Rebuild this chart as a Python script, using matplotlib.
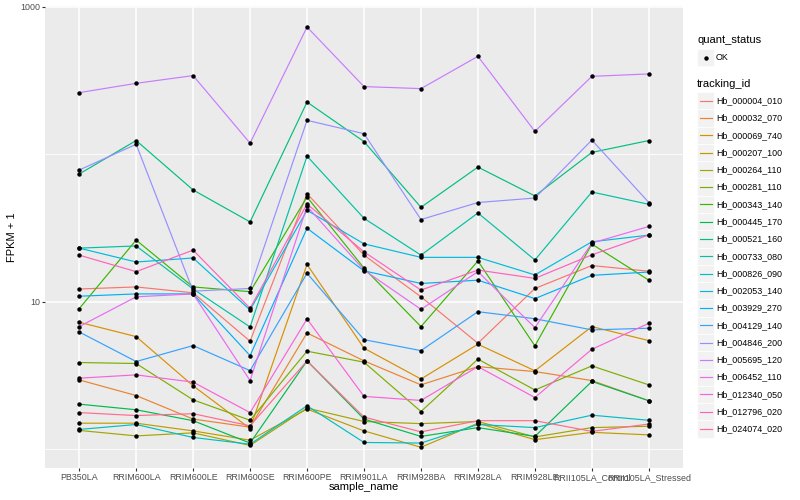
import matplotlib.pyplot as plt
from matplotlib.patches import Rectangle
from matplotlib.lines import Line2D
from matplotlib.ticker import NullFormatter

plt.rcParams['font.family'] = ['Liberation Sans', 'DejaVu Sans']

samples = ['PB350LA', 'RRIM600LA', 'RRIM600LE', 'RRIM600SE', 'RRIM600PE', 'RRIM901LA',
           'RRIM928BA', 'RRIM928LA', 'RRIM928LE', 'RRII105LA_Control', 'RRII105LA_Stressed']

tracking_ids = ['Hb_000004_010', 'Hb_000032_070', 'Hb_000069_740', 'Hb_000207_100',
                'Hb_000264_110', 'Hb_000281_110', 'Hb_000343_140', 'Hb_000445_170',
                'Hb_000521_160', 'Hb_000733_080', 'Hb_000826_090', 'Hb_002053_140',
                'Hb_003929_270', 'Hb_004129_140', 'Hb_004846_200', 'Hb_005695_120',
                'Hb_006452_110', 'Hb_012340_050', 'Hb_012796_020', 'Hb_024074_020']

# FPKM + 1 per sample
hb_000004_010 = [12.2, 12.6, 11.5, 5.40, 54.1, 20.7, 10.8, 5.23, 12.3, 17.6, 16.1]
hb_000032_070 = [2.95, 2.31, 1.60, 1.41, 6.14, 3.97, 2.73, 3.63, 3.36, 2.92, 2.13]
hb_000069_740 = [7.26, 5.80, 2.69, 1.38, 17.9, 4.84, 2.99, 5.15, 3.40, 6.78, 5.45]
hb_000207_100 = [1.50, 1.50, 1.33, 1.15, 1.87, 1.33, 1.03, 1.50, 1.16, 1.30, 1.25]
hb_000264_110 = [1.34, 1.23, 1.29, 1.06, 1.90, 1.54, 1.49, 1.54, 1.21, 1.40, 1.43]
hb_000281_110 = [3.87, 3.81, 2.16, 1.57, 4.62, 3.89, 1.80, 4.08, 2.52, 3.67, 2.73]
hb_000343_140 = [8.97, 26.2, 12.6, 11.7, 51.3, 16.9, 6.78, 18.9, 5.02, 24.6, 14.0]
hb_000445_170 = [2.02, 1.85, 1.56, 1.10, 3.97, 1.60, 1.22, 1.40, 1.22, 2.88, 2.13]
hb_000521_160 = [73.5, 124, 57.3, 34.8, 226, 122, 43.7, 81.9, 52.2, 103, 124]
hb_000733_080 = [23.1, 23.9, 12.2, 6.74, 97.2, 36.8, 20.7, 40.0, 19.2, 55.5, 45.8]
hb_000826_090 = [1.36, 1.47, 1.20, 1.08, 1.97, 1.11, 1.10, 1.47, 1.40, 1.70, 1.57]
hb_002053_140 = [23.1, 18.6, 19.8, 8.79, 41.7, 24.7, 20.0, 20.0, 15.2, 25.5, 28.3]
hb_003929_270 = [10.9, 11.3, 11.3, 4.31, 31.5, 16.2, 13.3, 14.0, 10.5, 15.1, 15.9]
hb_004129_140 = [6.24, 3.93, 5.04, 3.41, 15.6, 5.53, 4.66, 8.56, 7.67, 6.44, 6.61]
hb_004846_200 = [78.2, 117, 11.8, 12.3, 170, 138, 36.1, 47.1, 50.5, 125, 47.1]
hb_005695_120 = [262, 303, 342, 119, 730, 288, 279, 462, 143, 338, 351]
hb_006452_110 = [6.78, 10.8, 11.3, 2.92, 44.4, 16.4, 8.88, 16.0, 6.67, 25.0, 32.4]
hb_012340_050 = [3.03, 3.19, 2.85, 1.77, 7.64, 2.28, 2.14, 3.63, 2.24, 4.76, 7.14]
hb_012796_020 = [20.7, 16.0, 22.4, 9.03, 46.0, 21.8, 12.0, 16.4, 14.4, 20.8, 28.4]
hb_024074_020 = [1.77, 1.69, 1.74, 1.44, 3.97, 1.65, 1.31, 1.56, 1.56, 1.32, 1.48]

series = [hb_000004_010, hb_000032_070, hb_000069_740, hb_000207_100, hb_000264_110,
          hb_000281_110, hb_000343_140, hb_000445_170, hb_000521_160, hb_000733_080,
          hb_000826_090, hb_002053_140, hb_003929_270, hb_004129_140, hb_004846_200,
          hb_005695_120, hb_006452_110, hb_012340_050, hb_012796_020, hb_024074_020]

# ggplot default hue palette for 20 levels
colors = ['#F8766D', '#EA8331', '#D89000', '#C09B00', '#A3A500', '#7CAE00', '#39B600',
          '#00BB4E', '#00BF7D', '#00C1A3', '#00BFC4', '#00BAE0', '#00B0F6', '#35A2FF',
          '#9590FF', '#C77CFF', '#E76BF3', '#FA62DB', '#FF62BC', '#FF6C90']

W, H = 800, 500
fig = plt.figure(figsize=(8, 5), dpi=100)
ax = fig.add_axes([45 / W, 1 - 468 / H, (683 - 45) / W, (468 - 6) / H])
ax.set_facecolor('#EBEBEB')
for s in ax.spines.values():
    s.set_visible(False)

x = list(range(len(samples)))
for vals, c in zip(series, colors):
    ax.plot(x, vals, color=c, lw=0.85, zorder=2)
for vals in series:
    ax.plot(x, vals, 'o', color='black', ms=3.2, mew=0, zorder=3)

ax.set_yscale('log')
ax.set_xlim(-0.6, 10.6)
ax.set_ylim(0.745, 1014)
ax.set_xticks(x, samples)
ax.set_yticks([10, 1000], ['10', '1000'])
ax.set_yticks([1, 100], minor=True)
ax.yaxis.set_minor_formatter(NullFormatter())
ax.set_axisbelow(True)
ax.grid(which='major', color='white', lw=1.1)
ax.grid(which='minor', axis='y', color='white', lw=0.6)
ax.tick_params(which='major', length=2.0, width=0.8, color='#333333',
               labelsize=6.4, labelcolor='#4D4D4D', pad=1.6)
ax.tick_params(which='minor', length=0)

fig.text(364 / W, 1 - 487 / H, 'sample_name', ha='center', va='center', fontsize=8)
fig.text(12 / W, 1 - 237 / H, 'FPKM + 1', ha='center', va='center', rotation=90, fontsize=8)

# legends drawn ggplot style
def px(xp, yp):
    return xp / W, 1 - yp / H

key = 17.28
fig.text(*px(697, 40), 'quant_status', ha='left', va='center', fontsize=8)
fig.add_artist(Rectangle(px(697, 49 + key), key / W, key / H, transform=fig.transFigure,
                         facecolor='#F2F2F2', edgecolor='white', lw=0.5))
fig.add_artist(Line2D([px(705.6, 57.6)[0]], [px(705.6, 57.6)[1]], transform=fig.transFigure,
                      marker='o', color='black', ms=3.2, mew=0))
fig.text(*px(716, 57.6), 'OK', ha='left', va='center', fontsize=6.4)

fig.text(*px(697, 84), 'tracking_id', ha='left', va='center', fontsize=8)
for i, (tid, c) in enumerate(zip(tracking_ids, colors)):
    yc = 100.7 + key * i
    fig.add_artist(Rectangle(px(697, yc + key / 2), key / W, key / H, transform=fig.transFigure,
                             facecolor='#F2F2F2', edgecolor='white', lw=0.5))
    x0, y0 = px(699.5, yc)
    x1, _ = px(711.7, yc)
    fig.add_artist(Line2D([x0, x1], [y0, y0], transform=fig.transFigure, color=c, lw=0.85))
    fig.text(*px(716, yc), tid, ha='left', va='center', fontsize=6.4)

fig.savefig('out.png', dpi=100)
